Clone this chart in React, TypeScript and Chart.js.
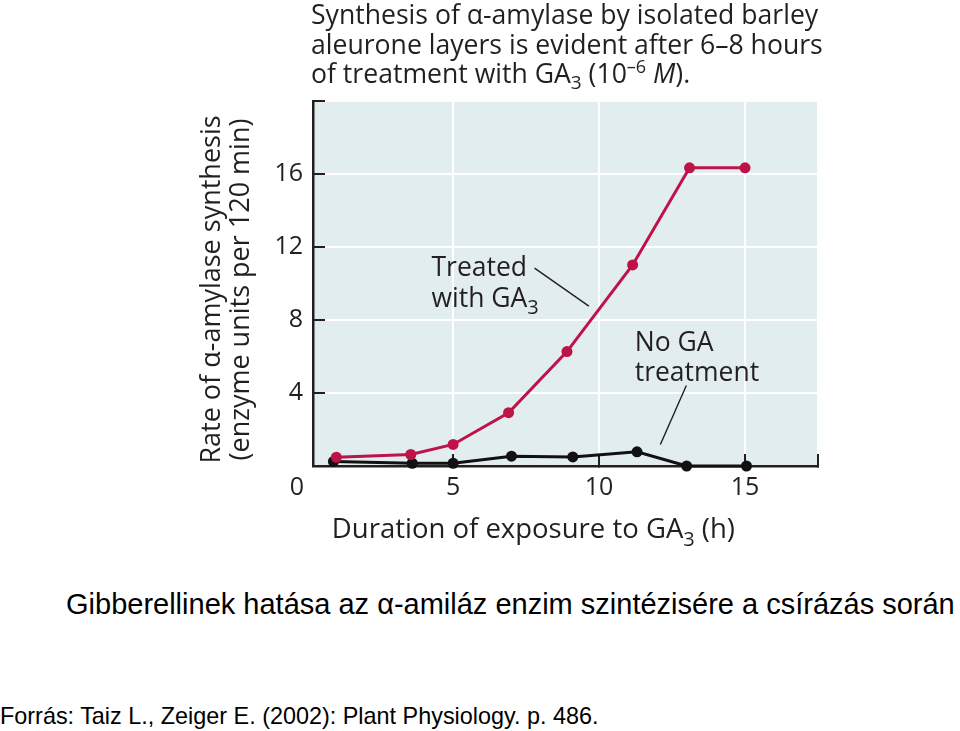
import React, { useEffect, useRef } from 'react';
import { Chart, registerables } from 'chart.js';

Chart.register(...registerables);

// ---- data ----
const HOURS_GA3 = [1.0, 3.55, 5.0, 6.9, 8.9, 11.15, 13.1, 15.0];
const RATE_GA3 = [0.48, 0.63, 1.18, 2.92, 6.27, 11.02, 16.34, 16.34];
const HOURS_NO_GA = [0.9, 3.6, 5.0, 7.0, 9.1, 11.3, 13.0, 15.05];
const RATE_NO_GA = [0.25, 0.15, 0.15, 0.54, 0.5, 0.78, 0.0, 0.0];

const X_TICKS = [5, 10, 15, 17.5];
const X_TICK_LABELS = ['5', '10', '15', ''];
const Y_TICKS = [0, 4, 8, 12, 16, 20];
const Y_TICK_LABELS = ['', '4', '8', '12', '16', ''];
const ORIGIN_LABEL = '0';
const X_MIN = 0.2;
const X_MAX = 17.5;
const Y_MIN = 0;
const Y_MAX = 20;

const Y_TITLE = ['Rate of α-amylase synthesis', '(enzyme units per 120 min)'];
const X_TITLE = ['Duration of exposure to GA', '3', ' (h)'];
const SERIES_GA3 = ['Treated', 'with GA', '3'];
const SERIES_NO_GA = ['No GA', 'treatment'];
const CAPTION = 'Gibberellinek hatása az α-amiláz enzim szintézisére a csírázás során';
const SOURCE = 'Forrás: Taiz L., Zeiger E. (2002): Plant Physiology. p. 486.';

const FONT = '"Open Sans", "Noto Sans", sans-serif';
const INK = '#231f20';
const RED = '#bf1248';
const BLACK = '#111111';
const PANEL = '#e2edef';

type Seg = { t: string; sub?: boolean };

function drawRich(ctx: CanvasRenderingContext2D, segs: Seg[], x: number, y: number, size: number, align: 'left' | 'center') {
  const base = `${size}px ${FONT}`;
  const small = `${Math.round(size * 0.74)}px ${FONT}`;
  let total = 0;
  const widths = segs.map((s) => {
    ctx.font = s.sub ? small : base;
    const w = ctx.measureText(s.t).width;
    total += w;
    return w;
  });
  let cx = align === 'center' ? x - total / 2 : x;
  ctx.textAlign = 'left';
  ctx.textBaseline = 'alphabetic';
  segs.forEach((s, i) => {
    ctx.font = s.sub ? small : base;
    ctx.fillText(s.t, cx, s.sub ? y + size * 0.28 : y);
    cx += widths[i];
  });
}

const decorPlugin = {
  id: 'decor',
  beforeDraw(chart: any) {
    const { ctx, chartArea } = chart;
    ctx.save();
    ctx.fillStyle = PANEL;
    ctx.fillRect(chartArea.left, chartArea.top, chartArea.right - chartArea.left, chartArea.bottom - chartArea.top);
    ctx.restore();
  },
  afterDraw(chart: any) {
    const { ctx, chartArea } = chart;
    const xs = chart.scales.x;
    const ys = chart.scales.y;
    ctx.save();
    ctx.fillStyle = INK;

    // origin "0" label at the corner
    ctx.font = `25px ${FONT}`;
    ctx.textAlign = 'center';
    ctx.textBaseline = 'middle';
    ctx.fillText(ORIGIN_LABEL, chartArea.left - 16, chartArea.bottom + 22);

    // y axis title (two rotated lines)
    const yc = (chartArea.top + chartArea.bottom) / 2 + 6;
    ctx.font = `27px ${FONT}`;
    [212, 241].forEach((cx, i) => {
      ctx.save();
      ctx.translate(cx, yc);
      ctx.rotate(-Math.PI / 2);
      ctx.textAlign = 'center';
      ctx.textBaseline = 'middle';
      ctx.fillText(Y_TITLE[i], 0, 0);
      ctx.restore();
    });

    // x axis title
    drawRich(ctx, [{ t: X_TITLE[0] }, { t: X_TITLE[1], sub: true }, { t: X_TITLE[2] }], xs.getPixelForValue(7.75), chartArea.bottom + 72, 27.5, 'center');

    // series annotations
    const gx = xs.getPixelForValue(4.26);
    const gy = ys.getPixelForValue(10.44);
    drawRich(ctx, [{ t: SERIES_GA3[0] }], gx, gy + 1, 26.5, 'left');
    drawRich(ctx, [{ t: SERIES_GA3[1] }, { t: SERIES_GA3[2], sub: true }], gx, gy + 31.5, 26.5, 'left');
    const nx = xs.getPixelForValue(11.22);
    const ny = ys.getPixelForValue(6.37);
    drawRich(ctx, [{ t: SERIES_NO_GA[0] }], nx, ny + 1, 26.5, 'left');
    drawRich(ctx, [{ t: SERIES_NO_GA[1] }], nx, ny + 31, 26.5, 'left');

    // leader lines
    ctx.strokeStyle = INK;
    ctx.lineWidth = 1.4;
    const leader = (x1: number, y1: number, x2: number, y2: number) => {
      ctx.beginPath();
      ctx.moveTo(xs.getPixelForValue(x1), ys.getPixelForValue(y1));
      ctx.lineTo(xs.getPixelForValue(x2), ys.getPixelForValue(y2));
      ctx.stroke();
    };
    leader(7.79, 10.84, 9.65, 8.76);
    leader(12.99, 4.41, 12.1, 1.18);
    ctx.restore();
  },
};

export default function App() {
  const canvasRef = useRef<HTMLCanvasElement | null>(null);

  useEffect(() => {
    const canvas = canvasRef.current;
    if (!canvas) return;
    Chart.defaults.font.family = FONT;
    Chart.defaults.color = INK;

    const grid = {
      color: '#ffffff',
      lineWidth: 2,
      tickColor: INK,
      tickLength: -12,
      tickWidth: 2,
      drawTicks: true,
    };
    const border = { color: INK, width: 2.5 };

    const chart = new Chart(canvas, {
      type: 'scatter',
      data: {
        datasets: [
          {
            label: 'Treated with GA3',
            data: HOURS_GA3.map((h, i) => ({ x: h, y: RATE_GA3[i] })),
            showLine: true,
            borderColor: RED,
            backgroundColor: RED,
            borderWidth: 3,
            pointRadius: 5.5,
            pointBorderWidth: 0,
            clip: false,
          } as any,
          {
            label: 'No GA treatment',
            data: HOURS_NO_GA.map((h, i) => ({ x: h, y: RATE_NO_GA[i] })),
            showLine: true,
            borderColor: BLACK,
            backgroundColor: BLACK,
            borderWidth: 3,
            pointRadius: 5.5,
            pointBorderWidth: 0,
            clip: false,
          } as any,
        ],
      },
      options: {
        animation: false,
        responsive: false,
        events: [],
        layout: { padding: { top: 101, right: 142, left: 0, bottom: 0 } },
        plugins: {
          legend: { display: false },
          tooltip: { enabled: false },
          title: { display: false },
        },
        scales: {
          x: {
            type: 'linear',
            min: X_MIN,
            max: X_MAX,
            bounds: 'data',
            grid,
            border,
            afterBuildTicks: (scale: any) => {
              scale.ticks = X_TICKS.map((v) => ({ value: v }));
            },
            afterFit: (scale: any) => {
              scale.height = 94;
            },
            ticks: {
              autoSkip: false,
              maxRotation: 0,
              padding: 19,
              color: INK,
              font: { size: 25, family: FONT },
              callback: (v: any) => {
                const i = X_TICKS.indexOf(Number(v));
                return i >= 0 ? X_TICK_LABELS[i] : '';
              },
            },
            title: { display: false },
          },
          y: {
            type: 'linear',
            min: Y_MIN,
            max: Y_MAX,
            bounds: 'data',
            grid,
            border,
            afterBuildTicks: (scale: any) => {
              scale.ticks = Y_TICKS.map((v) => ({ value: v }));
            },
            afterFit: (scale: any) => {
              scale.width = 313;
            },
            ticks: {
              autoSkip: false,
              padding: 22,
              color: INK,
              font: { size: 25, family: FONT },
              callback: (v: any) => {
                const i = Y_TICKS.indexOf(Number(v));
                return i >= 0 ? Y_TICK_LABELS[i] : '';
              },
            },
            title: { display: false },
          },
        },
      } as any,
      plugins: [decorPlugin],
    });
    return () => chart.destroy();
  }, []);

  const supStyle: React.CSSProperties = { fontSize: 18, position: 'relative', top: -10, verticalAlign: 'baseline', lineHeight: 0 };
  const subStyle: React.CSSProperties = { fontSize: 19, position: 'relative', top: 6, verticalAlign: 'baseline', lineHeight: 0 };

  return (
    <div style={{ position: 'absolute', left: 0, top: 0, width: 960, height: 731, background: '#ffffff', overflow: 'hidden' }}>
      <canvas ref={canvasRef} width={960} height={560} style={{ position: 'absolute', left: 0, top: 0, width: 960, height: 560 }} />
      <div
        style={{
          position: 'absolute',
          left: 311,
          top: 0,
          fontFamily: FONT,
          fontSize: 26.6,
          lineHeight: '29.5px',
          color: INK,
          whiteSpace: 'nowrap',
        }}
      >
        Synthesis of α-amylase by isolated barley
        <br />
        aleurone layers is evident after 6–8 hours
        <br />
        of treatment with GA<span style={subStyle}>3</span> (10<span style={supStyle}>–6</span> <i>M</i>).
      </div>
      <div
        style={{
          position: 'absolute',
          left: 66,
          top: 590,
          fontFamily: '"Liberation Sans", Arial, sans-serif',
          fontSize: 29,
          lineHeight: '29px',
          color: '#000',
          whiteSpace: 'nowrap',
        }}
      >
        {CAPTION}
      </div>
      <div
        style={{
          position: 'absolute',
          left: 0,
          top: 705,
          fontFamily: '"Liberation Sans", Arial, sans-serif',
          fontSize: 23.4,
          lineHeight: '23px',
          color: '#000',
          whiteSpace: 'nowrap',
        }}
      >
        {SOURCE}
      </div>
    </div>
  );
}
